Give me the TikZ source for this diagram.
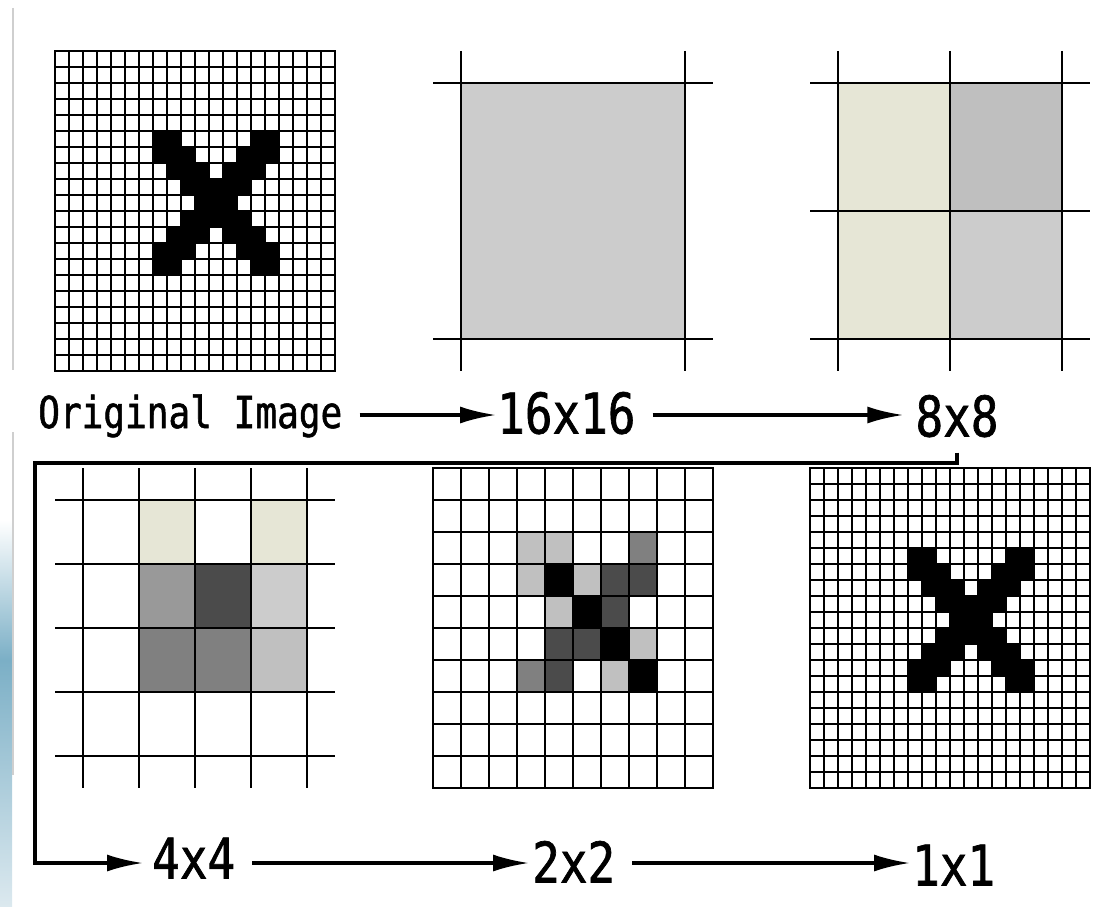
\documentclass[tikz,border=0pt]{standalone}
\usepackage{fontspec}
\newfontfamily\labfont[FakeStretch=0.82,FakeBold=1.2]{DejaVu Sans Mono}
\usetikzlibrary{arrows.meta}
\definecolor{beige}{HTML}{E6E6D6}
\definecolor{g16}{HTML}{CCCCCC}
\definecolor{gtr}{HTML}{BFBFBF}
\definecolor{lg}{HTML}{C0C0C0}
\definecolor{mg}{HTML}{808080}
\definecolor{dg}{HTML}{4B4B4B}
\definecolor{g99}{HTML}{999999}
\definecolor{edgeblue}{HTML}{7BAFC6}
\definecolor{edgelight}{HTML}{DCE9EF}
\definecolor{edgegray}{HTML}{CFCFCF}
\tikzset{
  fine/.style={line width=2.4pt, line cap=rect},
  blockline/.style={line width=2.6pt},
  biglab/.style={inner sep=0pt, font=\labfont\fontsize{56}{60}\selectfont, text height=41pt, text depth=0pt},
  smalllab/.style={inner sep=0pt, font=\labfont\fontsize{44}{48}\selectfont, text height=32pt, text depth=0pt},
  arr/.style={line width=3.2pt, -{Latex[length=36pt,width=17pt]}, shorten <=17pt}
}
\begin{document}
\begin{tikzpicture}[x=1pt,y=-1pt]
\useasboundingbox (0,0) rectangle (1114,907);

% left edge artefacts
\shade[top color=white, bottom color=edgeblue] (0,520) rectangle (12,660);
\shade[top color=edgeblue, bottom color=edgelight] (0,660) rectangle (12,907);
\draw[line width=2pt, edgegray] (13,8) -- (13,370);
\draw[line width=2pt, edgegray] (13,432) -- (13,775);

% ---------- Original image and 1x1 (20x20 grid with X) ----------
\foreach \r/\cs in {5/{7,8,14,15},6/{7,8,9,13,14,15},7/{8,9,10,12,13,14},8/{9,10,11,12,13},9/{10,11,12},10/{9,10,11,12,13},11/{8,9,10,12,13,14},12/{7,8,9,13,14,15},13/{7,8,14,15}}{
  \foreach \c in \cs {
    \fill ({55+14*\c},{51+16*\r}) rectangle ++(14,16);
    \fill ({810+14*\c},{468+16*\r}) rectangle ++(14,16);
  }
}
\foreach \i in {0,...,20}{
  \draw[fine] ({55+14*\i},51) -- ({55+14*\i},371);
  \draw[fine] (55,{51+16*\i}) -- (335,{51+16*\i});
  \draw[fine] ({810+14*\i},468) -- ({810+14*\i},788);
  \draw[fine] (810,{468+16*\i}) -- (1090,{468+16*\i});
}

% ---------- 16x16 ----------
\fill[g16] (461,83) rectangle (685,339);
\foreach \x in {461,685} \draw[blockline] (\x,51) -- (\x,371);
\foreach \y in {83,339} \draw[blockline] (433,\y) -- (713,\y);

% ---------- 8x8 ----------
\fill[beige] (838,83) rectangle (950,339);
\fill[gtr] (950,83) rectangle (1062,211);
\fill[g16] (950,211) rectangle (1062,339);
\foreach \x in {838,950,1062} \draw[blockline] (\x,51) -- (\x,371);
\foreach \y in {83,211,339} \draw[blockline] (810,\y) -- (1090,\y);

% ---------- 4x4 ----------
\foreach \c/\r/\col in {1/0/beige,3/0/beige,1/1/g99,2/1/dg,3/1/g16,1/2/mg,2/2/mg,3/2/lg}
  \fill[\col] ({83+56*\c},{500+64*\r}) rectangle ++(56,64);
\foreach \x in {83,139,195,251,307} \draw[blockline] (\x,468) -- (\x,788);
\foreach \y in {500,564,628,692,756} \draw[blockline] (55,\y) -- (335,\y);

% ---------- 2x2 ----------
\foreach \c/\r/\col in {3/2/lg,4/2/lg,7/2/mg,3/3/lg,4/3/black,5/3/lg,6/3/dg,7/3/dg,4/4/lg,5/4/black,6/4/dg,4/5/dg,5/5/dg,6/5/black,7/5/lg,3/6/mg,4/6/dg,6/6/lg,7/6/black}
  \fill[\col] ({433+28*\c},{468+32*\r}) rectangle ++(28,32);
\foreach \i in {0,...,10}{
  \draw[blockline, line cap=rect] ({433+28*\i},468) -- ({433+28*\i},788);
  \draw[blockline, line cap=rect] (433,{468+32*\i}) -- (713,{468+32*\i});
}

% ---------- labels ----------
\node[smalllab, anchor=west] (orig) at (38,412) {Original Image};
\node[biglab, anchor=west] (s16) at (497,413) {16x16};
\node[biglab] (s8) at (957,416) {8x8};
\node[biglab, anchor=west] (s4) at (152,858) {4x4};
\node[biglab, anchor=west] (s2) at (532,862) {2x2};
\node[biglab, anchor=west] (s1) at (912,865) {1x1};
\coordinate (c2) at (35,463);
\coordinate (a1) at (0,415);
\coordinate (a2) at (0,863);

% ---------- connectors ----------
\draw[arr, shorten >=1pt] (orig.east |- a1) -- (s16.west |- a1);
\draw[arr, shorten >=12pt] (s16.east |- a1) -- (s8.west |- a1);
\draw[arr, shorten <=16pt, shorten >=9pt] (s8) |- (c2) |- (s4.west |- a2);
\draw[arr, shorten >=3pt] (s4.east |- a2) -- (s2.west |- a2);
\draw[arr, shorten >=2pt] (s2.east |- a2) -- (s1.west |- a2);
\end{tikzpicture}
\end{document}
